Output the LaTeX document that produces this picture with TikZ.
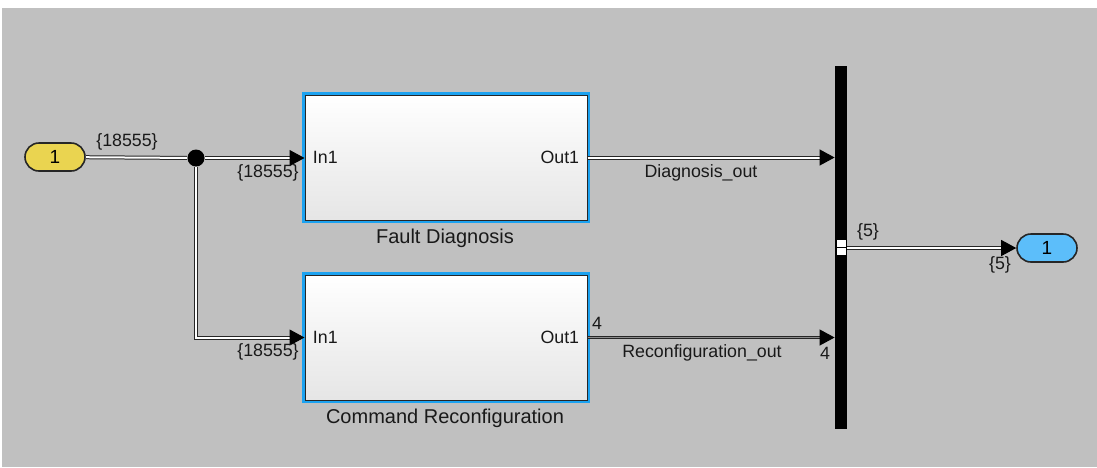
\documentclass[tikz,border=0pt]{standalone}
\usepackage{fontspec}
\setmainfont{Liberation Sans}
\usetikzlibrary{arrows.meta,positioning}

\definecolor{simgray}{RGB}{192,192,192}
\definecolor{selblue}{RGB}{28,162,240}
\definecolor{inyellow}{RGB}{234,212,80}
\definecolor{outblue}{RGB}{92,190,250}

\tikzset{
  blk/.style={draw=black!85, line width=0.5pt, top color=white, bottom color=black!10,
    minimum width=141pt, minimum height=62.5pt, preaction={draw=selblue, line width=3.2pt}},
  port/.style={rounded corners=7pt, draw=black!85, line width=0.8pt, minimum width=30pt,
    minimum height=14pt, inner sep=0pt, font=\fontsize{9.5}{11}\selectfont},
  sig/.style={draw=black!85, line width=0.5pt, double=white, double distance=1pt},
  vec/.style={draw=black!85, line width=0.5pt, double=black!45, double distance=0.6pt},
  tip/.style={-{Triangle[length=7.5pt,width=8pt,black]}},
  lbl/.style={font=\fontsize{8.9}{10}\selectfont, text=black!90, inner sep=0pt},
  blkname/.style={font=\fontsize{10}{11}\selectfont, text=black!90, inner sep=0pt},
}

\begin{document}
\begin{tikzpicture}[x=0.5pt, y=-0.5pt]
\useasboundingbox (0,0) rectangle (1097,467);
\fill[simgray] (2,8) rectangle (1097,467);

% blocks
\node[port, fill=inyellow] (inp) at (55,157) {1};
\node[circle, fill=black, minimum size=8.5pt, inner sep=0pt] (jn) at (196,158) {};
\node[blk] (fd) at (446,157.5) {};
\node[blk] (cr) at (446,337.5) {};
\node[blkname] (fdname) at (445,238) {Fault Diagnosis};
\node[blkname] (crname) at (445,418) {Command Reconfiguration};
\node[lbl, anchor=west] (fdin) at ([xshift=4pt]fd.west) {In1};
\node[lbl, anchor=east] (fdout) at ([xshift=-4pt]fd.east) {Out1};
\node[lbl, anchor=west] (crin) at ([xshift=4pt]cr.west) {In1};
\node[lbl, anchor=east] (crout) at ([xshift=-4pt]cr.east) {Out1};
\node[fill=black, minimum width=6pt, minimum height=181.5pt, inner sep=0pt] (bus) at (841,247.5) {};
\fill[white] (837,239.5) rectangle (846,246.5);
\fill[white] (837,248.3) rectangle (846,255);
\node[port, fill=outblue] (outp) at (1047,248) {1};

% signals
\draw[sig] (inp) -- (jn);
\draw[sig, tip] (jn) -- (jn -| fd.west);
\draw[sig, tip] (jn) |- (cr.west);
\draw[sig, tip] (fd.east) -- (fd.east -| bus.west);
\draw[vec, tip] (cr.east) -- (cr.east -| bus.west);
\draw[sig, tip] (bus.east |- outp) -- (outp.west);

% signal labels
\node[lbl] (dimin) at (127,142) {\{18555\}};
\node[lbl] (dimfd) at (268,173) {\{18555\}};
\node[lbl] (dimcr) at (268,352) {\{18555\}};
\node[lbl] (diagout) at (701,173) {Diagnosis\_out};
\node[lbl] (reconfout) at (702,353) {Reconfiguration\_out};
\node[lbl] (dimcra) at (597,323) {4};
\node[lbl] (dimcrb) at (825,353) {4};
\node[lbl] (dimbusa) at (868,232) {\{5\}};
\node[lbl] (dimbusb) at (1000,265) {\{5\}};
\end{tikzpicture}
\end{document}
